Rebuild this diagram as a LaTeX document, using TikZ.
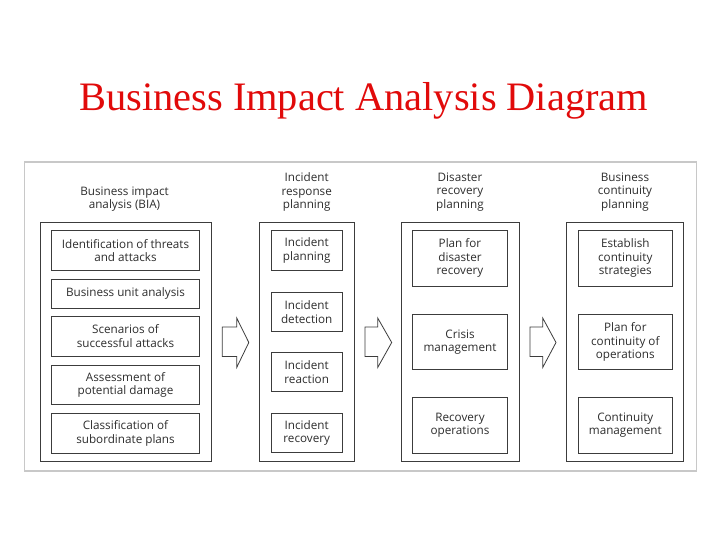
\documentclass[tikz,border=0pt]{standalone}
\usepackage{fontspec}
\setmainfont{Liberation Serif}
\newfontfamily\diagfont{Open Sans}
\definecolor{titlered}{RGB}{225,10,10}
\definecolor{framegray}{RGB}{200,200,200}
\definecolor{boxgray}{RGB}{60,60,60}
\definecolor{txtgray}{RGB}{45,45,45}
\begin{document}
\begin{tikzpicture}[x=1pt,y=-1pt,
  panel/.style={draw=boxgray,line width=0.9pt,inner sep=0pt,minimum width=#1,minimum height=239.4pt},
  item/.style n args={2}{draw=boxgray,line width=0.9pt,inner sep=0pt,minimum width=#1,minimum height=#2,
     align=center,font=\diagfont\fontsize{11.7}{13.5}\selectfont,text=txtgray},
  heading/.style={align=center,font=\diagfont\fontsize{11.7}{13.5}\selectfont,text=txtgray,inner sep=0pt},
  blockarrow/.style={draw=boxgray,line width=0.8pt,fill=white,line join=miter}]
\useasboundingbox (0,0) rectangle (728,546);
\node[font=\fontsize{40.4}{44}\selectfont,text=titlered,anchor=base,inner sep=0pt] (title) at (363.7,110) {Business Impact Analysis Diagram};
\draw[framegray,line width=1.8pt] (24.5,162) rectangle (696.5,471);
% panels
\node[panel=171pt] (p1) at (125.5,342) {};
\node[panel=94.7pt] (p2) at (306.7,342) {};
\node[panel=118pt] (p3) at (460,342) {};
\node[panel=116.6pt] (p4) at (625,342) {};
% headings
\node[heading] (h1) at (124.5,199) {Business impact\\analysis (BIA)};
\node[heading] (h2) at (306.7,192) {Incident\\response\\planning};
\node[heading] (h3) at (460,192) {Disaster\\recovery\\planning};
\node[heading] (h4) at (625,192) {Business\\continuity\\planning};
% panel 1 items
\node[item={147.6pt}{39.3pt}] (a1) at (125.5,250.5) {Identification of threats\\and attacks};
\node[item={147.6pt}{29.3pt}] (a2) at (125.5,293.7) {Business unit analysis};
\node[item={147.6pt}{39.3pt}] (a3) at (125.5,336.3) {Scenarios of\\successful attacks};
\node[item={147.6pt}{39.3pt}] (a4) at (125.5,384.7) {Assessment of\\potential damage};
\node[item={147.6pt}{39.5pt}] (a5) at (125.5,433.2) {Classification of\\subordinate plans};
% panel 2 items
\node[item={71.3pt}{39.3pt}] (b1) at (306.7,250.3) {Incident\\planning};
\node[item={71.3pt}{39.3pt}] (b2) at (306.7,312) {Incident\\detection};
\node[item={71.3pt}{39.3pt}] (b3) at (306.7,372) {Incident\\reaction};
\node[item={71.3pt}{39.3pt}] (b4) at (306.7,433) {Incident\\recovery};
% panel 3 items
\node[item={94.6pt}{55.5pt}] (c1) at (460,258.3) {Plan for\\disaster\\recovery};
\node[item={94.6pt}{55.5pt}] (c2) at (460,342) {Crisis\\management};
\node[item={94.6pt}{55.5pt}] (c3) at (460,425.3) {Recovery\\operations};
% panel 4 items
\node[item={94pt}{55.5pt}] (d1) at (625.3,258.3) {Establish\\continuity\\strategies};
\node[item={94pt}{55.5pt}] (d2) at (625.3,342) {Plan for\\continuity of\\operations};
\node[item={94pt}{55.5pt}] (d3) at (625.3,425.3) {Continuity\\management};
% block arrows
\foreach \xs/\xh/\xt in {222.3/236.7/248.8, 365/377.7/391.7, 530/542.7/556}{
  \draw[blockarrow] (\xs,327) -- (\xh,327) -- (\xh,318) -- (\xt,342.5) -- (\xh,367.5) -- (\xh,356.5) -- (\xs,356.5) -- cycle;
}
\end{tikzpicture}
\end{document}
